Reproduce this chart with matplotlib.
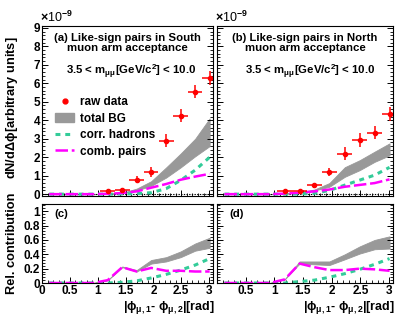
import matplotlib
matplotlib.use('Agg')
import matplotlib.pyplot as plt
from matplotlib.lines import Line2D
from matplotlib.patches import Patch
from matplotlib.ticker import MultipleLocator, FormatStrFormatter

plt.rcParams['font.family'] = ['Liberation Sans', 'DejaVu Sans']
plt.rcParams['font.weight'] = 'bold'
plt.rcParams['mathtext.fontset'] = 'custom'
plt.rcParams['mathtext.rm'] = 'Liberation Sans:bold'
plt.rcParams['mathtext.bf'] = 'Liberation Sans:bold'
plt.rcParams['mathtext.it'] = 'Liberation Sans:bold'
plt.rcParams['mathtext.default'] = 'bf'

# bin centres of |phi1 - phi2| [rad]
phi = [0.13, 0.39, 0.65, 0.92, 1.18, 1.44, 1.70, 1.96, 2.23, 2.49, 2.75, 3.01]
phi_data = [1.18, 1.44, 1.70, 1.96, 2.23, 2.49, 2.75, 3.01]
half_bin = 0.131

# ---- South (units of 1e-9) ----
south_raw = [0.18, 0.22, 0.78, 1.22, 2.9, 4.25, 5.55, 6.3]
south_raw_err = [0.1, 0.1, 0.2, 0.27, 0.34, 0.36, 0.36, 0.38]
south_comb = [0, 0, 0, 0, 0.02, 0.06, 0.15, 0.35, 0.55, 0.78, 0.95, 1.1]
south_corr = [0, 0, 0, 0, 0, 0.01, 0.03, 0.08, 0.3, 0.75, 1.3, 2.0]
south_bg_lo = [0, 0, 0, 0, 0.02, 0.07, 0.2, 0.45, 0.9, 1.45, 2.05, 2.6]
south_bg_hi = [0, 0, 0, 0, 0.02, 0.07, 0.3, 0.7, 1.45, 2.2, 3.0, 4.1]

# ---- North (units of 1e-9) ----
north_raw = [0.16, 0.17, 0.48, 1.2, 2.2, 2.93, 3.33, 4.32]
north_raw_err = [0.08, 0.08, 0.13, 0.23, 0.34, 0.38, 0.35, 0.38]
north_comb = [0, 0, 0, 0, 0.03, 0.08, 0.15, 0.25, 0.4, 0.5, 0.6, 0.8]
north_corr = [0, 0, 0, 0, 0, 0.01, 0.05, 0.2, 0.49, 0.76, 1.03, 1.45]
north_bg_lo = [0, 0, 0, 0, 0.03, 0.09, 0.2, 0.4, 0.94, 1.3, 1.75, 2.1]
north_bg_hi = [0, 0, 0, 0, 0.03, 0.1, 0.25, 0.6, 1.46, 1.84, 2.3, 2.75]

# ---- relative contributions ----
south_rel_comb = [0, 0, 0, 0, 0.04, 0.22, 0.16, 0.21, 0.17, 0.17, 0.16, 0.16]
south_rel_corr = [0, 0, 0, 0, 0, 0.01, 0.03, 0.07, 0.12, 0.18, 0.25, 0.34]
south_rel_lo = [0, 0, 0, 0, 0.04, 0.22, 0.16, 0.27, 0.3, 0.36, 0.45, 0.49]
south_rel_hi = [0, 0, 0, 0, 0.04, 0.23, 0.18, 0.32, 0.36, 0.44, 0.55, 0.63]

north_rel_comb = [0, 0, 0, 0, 0.05, 0.27, 0.22, 0.18, 0.18, 0.2, 0.19, 0.17]
north_rel_corr = [0, 0, 0, 0, 0, 0.02, 0.04, 0.08, 0.13, 0.19, 0.26, 0.34]
north_rel_lo = [0, 0, 0, 0, 0.05, 0.27, 0.26, 0.25, 0.33, 0.41, 0.47, 0.48]
north_rel_hi = [0, 0, 0, 0, 0.05, 0.3, 0.3, 0.3, 0.4, 0.51, 0.6, 0.65]

RED = '#ff0000'
GRAY = '#999999'
GREEN = '#33cc99'
MAGENTA = '#ff00ff'
GREEN_LS = (0, (1.6, 1.6))
MAG_LS = (0, (5, 1.5))

W, H = 399, 318
fig = plt.figure(figsize=(W / 100, H / 100), dpi=100)


def px_axes(x0, y0, x1, y1):
    return fig.add_axes([x0 / W, 1 - y1 / H, (x1 - x0) / W, (y1 - y0) / H])


def style_axes(ax, ymajor, yminor):
    ax.set_xlim(0, 3.07)
    ax.xaxis.set_major_locator(MultipleLocator(0.5))
    ax.xaxis.set_minor_locator(MultipleLocator(0.1))
    ax.yaxis.set_major_locator(MultipleLocator(ymajor))
    ax.yaxis.set_minor_locator(MultipleLocator(yminor))
    ax.tick_params(which='both', direction='in', left=True, right=True,
                   bottom=True, top=False, labelsize=8.5, pad=1.5)
    ax.tick_params(which='major', length=4, width=0.7)
    ax.tick_params(which='minor', length=2, width=0.6)
    for s in ax.spines.values():
        s.set_linewidth(0.8)


def draw_top(ax, raw, raw_err, comb, corr, lo, hi, show_y):
    ax.axhline(0, color='k', ls=(0, (1.2, 1.2)), lw=0.8)
    ax.fill_between(phi, lo, hi, color=GRAY, lw=0.6, edgecolor=GRAY)
    ax.plot(phi, corr, color=GREEN, ls=GREEN_LS, lw=2.2)
    ax.plot(phi, comb, color=MAGENTA, ls=MAG_LS, lw=1.8)
    ax.errorbar(phi_data, raw, xerr=half_bin, yerr=raw_err, fmt='o',
                color=RED, ms=3, elinewidth=1.1, capsize=0)
    ax.set_ylim(-0.1, 9.1)
    style_axes(ax, 1, 0.2)
    ax.tick_params(labelbottom=False, labelleft=show_y)
    ax.text(-0.01, 1.005, r'$\times$10$^{-9}$', transform=ax.transAxes,
            fontsize=9, fontweight='normal', ha='left', va='bottom')


def draw_bottom(ax, comb, corr, lo, hi, show_y, label):
    ax.fill_between(phi, lo, hi, color=GRAY, lw=0.6, edgecolor=GRAY)
    ax.plot(phi, corr, color=GREEN, ls=GREEN_LS, lw=2.2)
    ax.plot(phi, comb, color=MAGENTA, ls=MAG_LS, lw=1.8)
    ax.set_ylim(0, 1.1)
    style_axes(ax, 0.2, 0.04)
    ax.yaxis.set_major_formatter(FormatStrFormatter('%g'))
    ax.xaxis.set_major_formatter(FormatStrFormatter('%g'))
    ax.tick_params(labelleft=show_y)
    ax.text(0.07, 0.87, label, transform=ax.transAxes, fontsize=8.2,
            ha='left', va='center')
    ax.text(1.01, -0.345, r'|$\phi_{\mu,1}$- $\phi_{\mu,2}$|[rad]',
            transform=ax.transAxes, fontsize=9, ha='right', va='baseline')


ax_a = px_axes(42, 26, 213, 196)
ax_b = px_axes(217, 26, 393, 196)
ax_c = px_axes(42, 204, 213, 283)
ax_d = px_axes(217, 204, 393, 283)

draw_top(ax_a, south_raw, south_raw_err, south_comb, south_corr,
         south_bg_lo, south_bg_hi, True)
draw_top(ax_b, north_raw, north_raw_err, north_comb, north_corr,
         north_bg_lo, north_bg_hi, False)
draw_bottom(ax_c, south_rel_comb, south_rel_corr, south_rel_lo, south_rel_hi,
            True, '(c)')
draw_bottom(ax_d, north_rel_comb, north_rel_corr, north_rel_lo, north_rel_hi,
            False, '(d)')
# right panel drops the "0" x label
ax_d.set_xticks([0.5, 1, 1.5, 2, 2.5, 3])

mass = r'3.5 < m$_{\mu\mu}$[GeV/c$^2$] < 10.0'
ax_a.text(0.5, 0.9, '(a) Like-sign pairs in South\nmuon arm acceptance',
          transform=ax_a.transAxes, fontsize=8.2, ha='center', va='center',
          linespacing=1.05)
ax_a.text(0.52, 0.73, mass, transform=ax_a.transAxes, fontsize=8.2,
          ha='center', va='center')
ax_b.text(0.5, 0.9, '(b) Like-sign pairs in North\nmuon arm acceptance',
          transform=ax_b.transAxes, fontsize=8.2, ha='center', va='center',
          linespacing=1.05)
ax_b.text(0.53, 0.73, mass, transform=ax_b.transAxes, fontsize=8.2,
          ha='center', va='center')

handles = [Line2D([], [], color=RED, marker='o', ls='none', ms=3.5),
           Patch(facecolor=GRAY, edgecolor=GRAY),
           Line2D([], [], color=GREEN, ls=GREEN_LS, lw=2.2),
           Line2D([], [], color=MAGENTA, ls=MAG_LS, lw=1.8)]
ax_a.legend(handles, ['raw data', 'total BG', 'corr. hadrons', 'comb. pairs'],
            loc='upper left', bbox_to_anchor=(0.05, 0.615), frameon=False,
            fontsize=8.5, handlelength=1.6, handletextpad=0.5,
            labelspacing=0.38, borderaxespad=0)

fig.text(12 / W, 1 - 108 / H, r'dN/d$\Delta\phi$[arbitrary units]',
         rotation=90, fontsize=9.2, ha='center', va='center')
fig.text(12 / W, 1 - 243 / H, 'Rel. contribution', rotation=90,
         fontsize=9.2, ha='center', va='center')

fig.savefig('out.png', dpi=100)
